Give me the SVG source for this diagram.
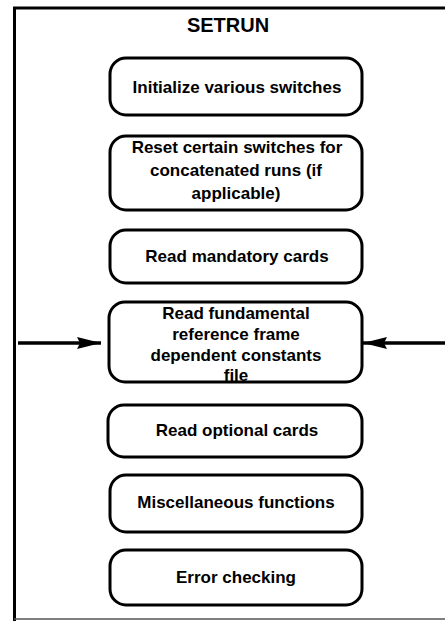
<svg xmlns="http://www.w3.org/2000/svg" width="445" height="621" viewBox="0 0 445 621">
  <style>
    .frame { fill: none; stroke: #000; stroke-width: 3; }
    .box { fill: #fff; stroke: #000; stroke-width: 3; }
    .lbl { font-family: "Liberation Sans", Arial, sans-serif; font-weight: bold; font-size: 17px; text-anchor: middle; fill: #000; }
    .title { font-family: "Liberation Sans", Arial, sans-serif; font-weight: bold; font-size: 20px; text-anchor: middle; fill: #000; }
    .arrow { stroke: #000; stroke-width: 3.5; fill: none; }
  </style>
  <defs>
    <marker id="head" viewBox="0 0 24 12" refX="24" refY="6" markerWidth="24" markerHeight="12" orient="auto" markerUnits="userSpaceOnUse">
      <path d="M0,0 L24,6 L0,12 L3,6 Z" fill="#000"/>
    </marker>
  </defs>
  <rect width="445" height="621" fill="#fff"/>

  <!-- enclosing SETRUN frame (open on the right) -->
  <g id="frame">
    <path class="frame" d="M445,8 H14.5 V621"/>
    <path d="M14,619 H445" stroke="#555" stroke-width="1.5" fill="none"/>
    <text class="title" x="228" y="32">SETRUN</text>
  </g>

  <g id="n1">
    <rect class="box" x="110" y="58" width="252" height="57" rx="16"/>
    <text class="lbl" x="237" y="93">Initialize various switches</text>
  </g>
  <g id="n2">
    <rect class="box" x="110" y="136" width="252" height="74" rx="16"/>
    <text class="lbl" x="237" y="153">Reset certain switches for</text>
    <text class="lbl" x="236" y="176">concatenated runs (if</text>
    <text class="lbl" x="236" y="199">applicable)</text>
  </g>
  <g id="n3">
    <rect class="box" x="110" y="230" width="252" height="53" rx="16"/>
    <text class="lbl" x="237" y="262">Read mandatory cards</text>
  </g>
  <g id="n4">
    <rect class="box" x="109" y="302" width="253" height="80" rx="16"/>
    <text class="lbl" x="236" y="319">Read fundamental</text>
    <text class="lbl" x="236" y="340">reference frame</text>
    <text class="lbl" x="236" y="361">dependent constants</text>
    <text class="lbl" x="236" y="381">file</text>
  </g>
  <g id="n5">
    <rect class="box" x="108" y="405" width="254" height="52" rx="16"/>
    <text class="lbl" x="237" y="436">Read optional cards</text>
  </g>
  <g id="n6">
    <rect class="box" x="110" y="475" width="252" height="57" rx="16"/>
    <text class="lbl" x="236" y="508">Miscellaneous functions</text>
  </g>
  <g id="n7">
    <rect class="box" x="110" y="550" width="252" height="55" rx="16"/>
    <text class="lbl" x="236" y="583">Error checking</text>
  </g>

  <g id="connectors">
    <line class="arrow" x1="18" y1="343" x2="101" y2="343" marker-end="url(#head)"/>
    <line class="arrow" x1="445" y1="343" x2="363" y2="343" marker-end="url(#head)"/>
  </g>
</svg>
